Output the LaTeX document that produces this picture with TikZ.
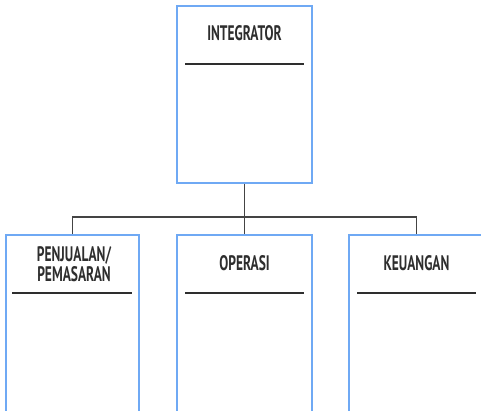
\documentclass[tikz,border=0pt]{standalone}
\usepackage{fontspec}
\newfontfamily\titlefont[FakeStretch=0.64]{PT Sans}
\definecolor{boxblue}{HTML}{6FA9F4}
\definecolor{ink}{HTML}{2E2E2E}
\definecolor{wire}{HTML}{444444}
\begin{document}
\begin{tikzpicture}[x=1pt,y=-1pt,
  unitbox/.style={draw=boxblue,line width=1.7pt,fill=white,minimum width=135pt,inner sep=0pt},
  title/.style={text=ink,font=\titlefont\bfseries\fontsize{21}{20}\selectfont,align=center,inner sep=0pt},
  rule/.style={draw=ink,line width=1.2pt},
  conn/.style={draw=wire,line width=1.1pt}]
\useasboundingbox (0,0) rectangle (481,410);
\clip (0,0) rectangle (481,410);
% boxes
\node[unitbox,minimum height=177pt] (top) at (244.5,94.5) {};
\node[unitbox,minimum width=133pt,minimum height=185pt] (left) at (72.5,327.5) {};
\node[unitbox,minimum height=185pt] (mid) at (244.5,327.5) {};
\node[unitbox,minimum height=185pt] (right) at (416.5,327.5) {};
% connectors
\coordinate (bus) at (244.5,217);
\draw[conn] (top.south) -- (mid.north);
\draw[conn] (left.north) -- (left.north |- bus) -- (right.north |- bus) -- (right.north);
% titles
\node[title] (ttop) at (244.5,33) {INTEGRATOR};
\node[title] (tleft) at (74,264.5) {PENJUALAN/\\PEMASARAN};
\node[title] (tmid) at (244.5,263) {OPERASI};
\node[title] (tright) at (416.5,263) {KEUANGAN};
% rules
\draw[rule] (185,64) -- (304,64);
\draw[rule] (12,293) -- (132,293);
\draw[rule] (185,293) -- (304,293);
\draw[rule] (357,293) -- (476,293);
\end{tikzpicture}
\end{document}
